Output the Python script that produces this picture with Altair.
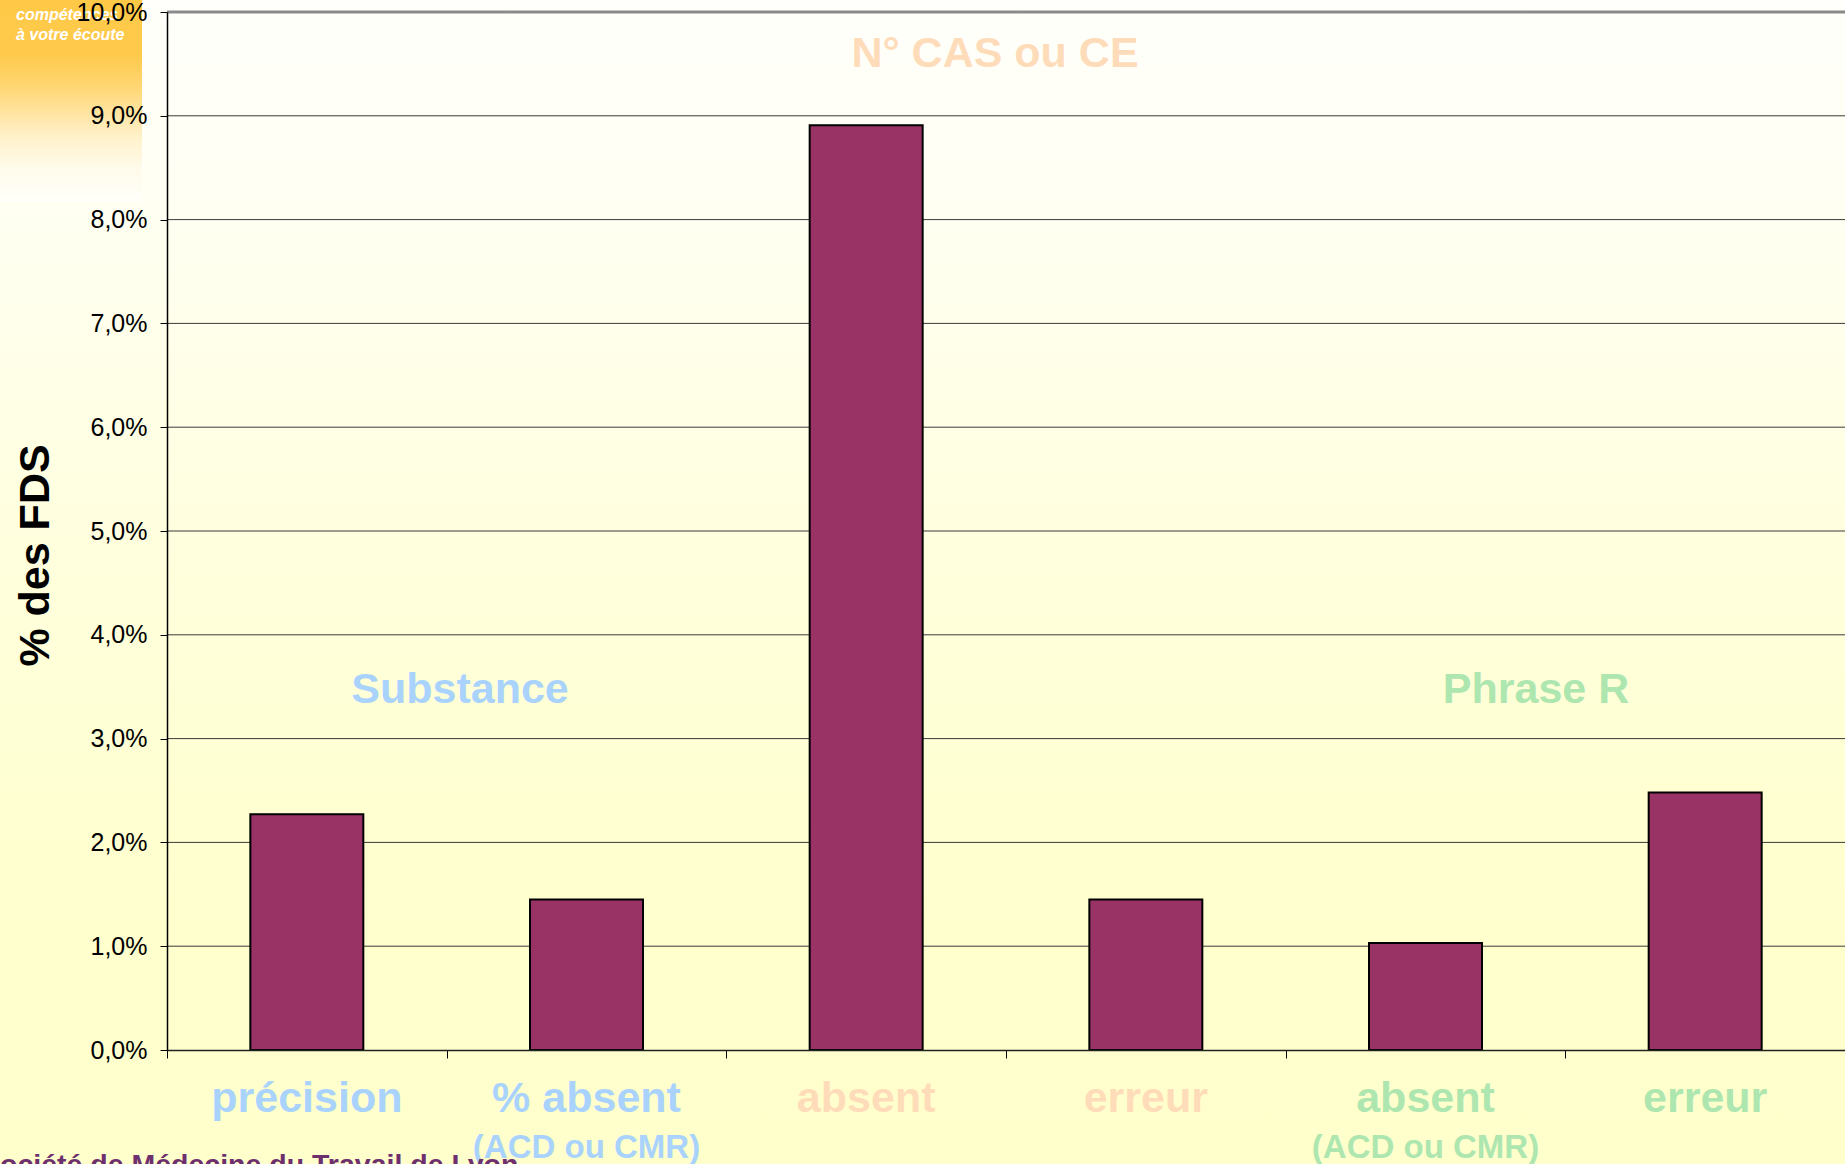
import altair as alt
import pandas as pd

# ---- data -------------------------------------------------------------
categories = ["précision", "% absent", "absent", "erreur", "absent", "erreur"]
sub_labels = ["", "(ACD ou CMR)", "", "", "(ACD ou CMR)", ""]
groups = ["Substance", "Substance", "N° CAS ou CE", "N° CAS ou CE", "Phrase R", "Phrase R"]
pct_fds = [2.27, 1.45, 8.91, 1.45, 1.03, 2.48]
y_ticks = [0, 1, 2, 3, 4, 5, 6, 7, 8, 9, 10]
group_names = ["Substance", "N° CAS ou CE", "Phrase R"]
group_colors = ["#a9d3fd", "#ffdcb9", "#aee6b0"]

# ---- layout / style ---------------------------------------------------
W, H = 1678, 1038
PAD = {"left": 167, "top": 12, "right": 0, "bottom": 114}
SANS = "Liberation Sans, Arial, Helvetica, sans-serif"
P_INNER = 0.596
STEP = W / len(categories)

color_of = dict(zip(group_names, group_colors))
df = pd.DataFrame({
    "key": [f"c{i}" for i in range(len(categories))],
    "label": categories,
    "sub": sub_labels,
    "group": groups,
    "pct": pct_fds,
    "color": [color_of[g] for g in groups],
})
one = pd.DataFrame({"v": [0]})

xscale = alt.Scale(paddingInner=P_INNER, paddingOuter=P_INNER / 2)
yscale = alt.Scale(domain=[0, 10], nice=False, zero=True)

# category ticks sit on the boundaries between categories
x_axis = alt.Axis(
    labels=False, title=None, ticks=True, tickSize=8, tickColor="#000",
    bandPosition=0, tickOffset=-P_INNER * STEP / 2,
    domainColor="#222", domainWidth=1.5, grid=False, zindex=1,
)
y_axis = alt.Axis(
    values=y_ticks,
    labelExpr="replace(format(datum.value, '.1f'), '.', ',') + '%'",
    tickSize=7, tickColor="#000", labelPadding=13,
    labelFontSize=25, labelFont=SANS, labelColor="#000",
    domainColor="#000", domainWidth=1.5, grid=False,
    title="% des FDS", titleFont=SANS, titleFontSize=43,
    titleFontWeight="bold", titleColor="#000", titleAngle=-90,
    titleX=-132, titleY=543, titleAlign="center", titleBaseline="middle",
    zindex=1,
)

X = alt.X("key:N", sort=None, scale=xscale, axis=x_axis, bandPosition=0.5)
Y = alt.Y("pct:Q", scale=yscale, axis=y_axis)

# page background: white at the top fading to pale yellow
bg = alt.Chart(one).mark_rect(
    fill=alt.Gradient(
        gradient="linear", x1=0, x2=0, y1=0, y2=1,
        stops=[
            alt.GradientStop(color="#fffffb", offset=0),
            alt.GradientStop(color="#fffff4", offset=0.15),
            alt.GradientStop(color="#ffffdc", offset=0.5),
            alt.GradientStop(color="#ffffcf", offset=0.75),
            alt.GradientStop(color="#ffffcc", offset=1),
        ],
    )
).encode(
    x=alt.value(-PAD["left"]), x2=alt.value(W + 10),
    y=alt.value(-PAD["top"]), y2=alt.value(H + PAD["bottom"]),
)

# orange corner banner
corner = alt.Chart(one).mark_rect(
    fill=alt.Gradient(
        gradient="linear", x1=0, x2=0, y1=0, y2=1,
        stops=[
            alt.GradientStop(color="#ffc947", offset=0),
            alt.GradientStop(color="#ffca4c", offset=0.27),
            alt.GradientStop(color="#ffd570", offset=0.42),
            alt.GradientStop(color="#fff0c8", offset=0.67),
            alt.GradientStop(color="#fffbea", offset=0.83),
            alt.GradientStop(color="#fffffa", offset=1),
        ],
    )
).encode(
    x=alt.value(-PAD["left"]), x2=alt.value(-25),
    y=alt.value(-PAD["top"]), y2=alt.value(190),
)

tagline = [
    alt.Chart(pd.DataFrame({"t": [t]})).mark_text(
        font=SANS, fontSize=16, fontWeight="bold", fontStyle="italic",
        color="white", align="left", baseline="alphabetic",
    ).encode(x=alt.value(-151), y=alt.value(yy), text="t:N")
    for t, yy in [("compétences", 8), ("à votre écoute", 28)]
]

# horizontal gridlines (the 10 % line is drawn grey and heavier)
grid = alt.Chart(pd.DataFrame({"pct": y_ticks[1:-1]})).mark_rule(
    color="#3a3a3a", strokeWidth=1
).encode(y=Y, x=alt.value(0), x2=alt.value(W))
top_rule = alt.Chart(pd.DataFrame({"pct": y_ticks[-1:]})).mark_rule(
    color="#8a8a8a", strokeWidth=3
).encode(y=Y, x=alt.value(0), x2=alt.value(W))

bars = alt.Chart(df).mark_bar(
    fill="#993366", stroke="#000000", strokeWidth=2
).encode(x=alt.X("key:N", sort=None, scale=xscale, axis=x_axis), y=Y)

cat_text = alt.Chart(df).mark_text(
    font=SANS, fontSize=43, fontWeight="bold", align="center", baseline="alphabetic"
).encode(
    x=X, y=alt.value(1100), text="label:N",
    color=alt.Color("color:N", scale=None),
)
sub_text = alt.Chart(df).mark_text(
    font=SANS, fontSize=33, fontWeight="bold", align="center", baseline="alphabetic"
).encode(
    x=X, y=alt.value(1146), text="sub:N",
    color=alt.Color("color:N", scale=None),
)

title_pos = [(293, 691), (828, 55), (1369, 691)]
group_titles = [
    alt.Chart(pd.DataFrame({"t": [name]})).mark_text(
        font=SANS, fontSize=43, fontWeight="bold", color=col,
        align="center", baseline="alphabetic",
    ).encode(x=alt.value(px), y=alt.value(py), text="t:N")
    for name, col, (px, py) in zip(group_names, group_colors, title_pos)
]

footer = alt.Chart(pd.DataFrame({"t": ["Société de Médecine du Travail de Lyon"]})).mark_text(
    font=SANS, fontSize=28.5, fontWeight="bold", color="#6e2f6e",
    align="left", baseline="alphabetic",
).encode(x=alt.value(-186), y=alt.value(1162), text="t:N")

chart = alt.layer(
    bg, corner, *tagline, grid, top_rule, bars, cat_text, sub_text, *group_titles, footer
).properties(
    width=W, height=H, padding=PAD,
    autosize=alt.AutoSizeParams(type="none"),
).configure_view(stroke=None).configure(background="#ffffcc")

chart.save("out.html", embed_options={"renderer": "svg", "actions": False})
